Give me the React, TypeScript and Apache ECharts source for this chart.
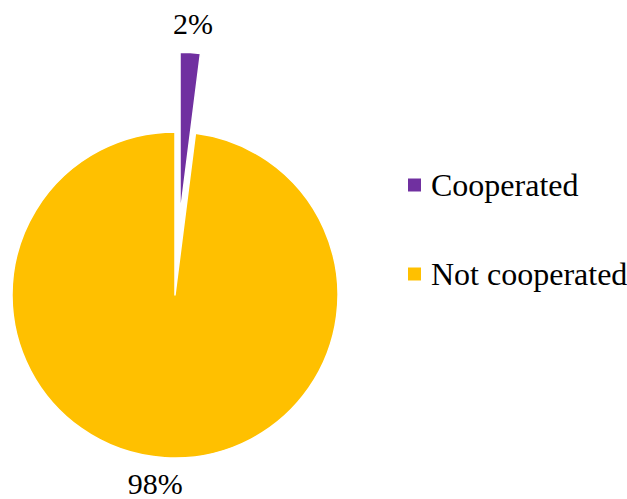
import React, { useEffect, useRef } from "react";
import * as echarts from "echarts";

const categories = ["Cooperated", "Not cooperated"];
const values = [2, 98];
const colors = ["#7030A0", "#FFC000"];

const FONT = "Times New Roman";
const CSS = `.pie-chart text { font-family: "Liberation Serif", "Times New Roman", serif !important; }`;

export default function App() {
  const ref = useRef<HTMLDivElement>(null);
  useEffect(() => {
    if (!ref.current) return;
    const chart = echarts.init(ref.current, null, { renderer: "svg" });
    chart.setOption({
      animation: false,
      backgroundColor: "#ffffff",
      textStyle: { fontFamily: FONT, fontStyle: "normal", fontWeight: "normal" },
      legend: {
        orient: "vertical",
        left: 401,
        top: 164,
        itemWidth: 15,
        itemHeight: 15,
        itemGap: 57,
        icon: "rect",
        selectedMode: false,
        data: categories,
        textStyle: {
          fontFamily: FONT,
          fontStyle: "normal",
          fontWeight: "normal",
          fontSize: 32,
          color: "#000000",
          padding: [0, 0, 0, 4],
        },
      },
      series: [
        {
          type: "pie",
          center: [175, 295],
          radius: 163,
          startAngle: 90,
          clockwise: true,
          selectedMode: "multiple",
          selectedOffset: 80,
          avoidLabelOverlap: false,
          itemStyle: { borderColor: "#ffffff", borderWidth: 1.5 },
          label: {
            show: true,
            position: "outside",
            fontFamily: FONT,
            fontStyle: "normal",
            fontWeight: "normal",
            fontSize: 30,
            color: "#000000",
            distanceToLabelLine: 5,
            formatter: (p: any) => Math.round(p.percent) + "%",
          },
          labelLine: { show: false, length: 26, length2: 0 },
          labelLayout: (params: any) =>
            params.dataIndex === 0
              ? { align: "center", dx: -4, dy: -3 }
              : { align: "center", dx: -3, dy: 0 },
          emphasis: { disabled: true },
          data: categories.map((name, i) => ({
            name,
            value: values[i],
            selected: i === 0,
            itemStyle: { color: colors[i] },
          })),
        },
      ],
    });
    return () => chart.dispose();
  }, []);
  return (
    <>
      <style>{CSS}</style>
      <div
        ref={ref}
        className="pie-chart"
        style={{ position: "absolute", left: 0, top: 0, width: 627, height: 499 }}
      />
    </>
  );
}
